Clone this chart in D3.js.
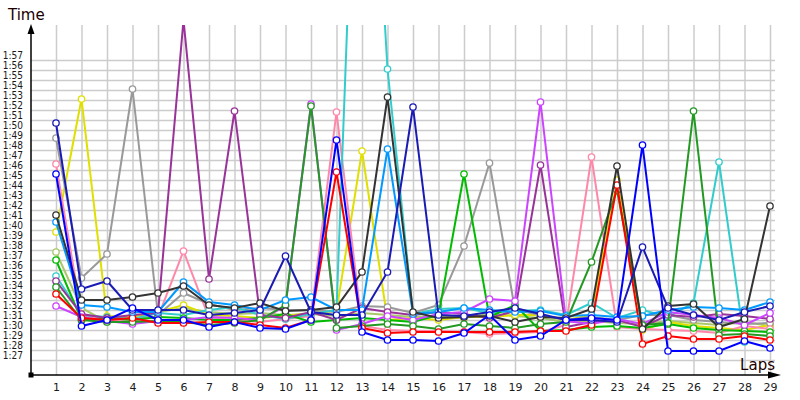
<!DOCTYPE html>
<html>
<head>
<meta charset="utf-8">
<script src="https://cdn.jsdelivr.net/npm/d3@7/dist/d3.min.js"></script>
<style>
  html, body { margin: 0; padding: 0; background: #fff; }
  svg { display: block; }
</style>
</head>
<body>
<svg id="chart" width="800" height="400"></svg>
<script>
// ---- data (lap times in seconds) ----
const laps = [1,2,3,4,5,6,7,8,9,10,11,12,13,14,15,16,17,18,19,20,21,22,23,24,25,26,27,28,29];
const yTickValues = [87,88,89,90,91,92,93,94,95,96,97,98,99,100,101,102,103,104,105,106,107,108,109,110,111,112,113,114,115,116,117];

const navy     = [110.7,94.1,94.9,92.0,92.0,92.0,91.5,91.7,92.0,97.4,91.8,91.5,91.5,95.8,112.3,91.5,91.4,91.8,92.2,91.6,91.0,91.0,90.8,98.3,92.2,91.5,91.0,91.8,92.4];
const blue     = [105.6,90.4,91.0,92.2,91.0,91.0,90.3,90.8,90.2,90.1,91.0,109.0,89.8,89.0,89.0,88.9,89.7,91.5,89.0,89.4,91.0,91.2,91.0,108.5,87.9,87.9,87.9,88.9,88.2];
const red      = [93.6,91.2,91.0,91.2,90.7,90.7,90.8,90.8,90.5,90.2,91.0,105.8,90.2,89.7,89.8,89.8,89.8,89.8,89.8,89.9,89.9,90.5,104.5,88.6,89.4,89.1,89.1,89.4,89.0];
const green    = [97.0,91.0,91.2,91.0,91.3,91.2,91.0,91.0,91.2,91.6,90.8,91.0,91.2,91.0,90.8,91.5,105.6,91.3,92.5,89.9,90.0,90.3,90.4,90.2,90.6,90.2,90.0,89.9,89.8];
const darkGreen= [94.3,91.0,90.8,90.8,90.9,90.8,90.5,90.7,91.0,92.5,112.4,90.2,90.4,90.6,90.4,90.1,90.6,90.4,90.2,90.6,90.8,96.8,104.0,90.5,90.7,111.9,89.5,89.6,89.4];
const gray     = [109.2,95.2,97.6,114.1,91.5,93.7,92.6,92.0,92.2,92.0,92.0,91.8,92.4,92.3,91.7,92.5,98.4,106.7,92.0,91.5,91.0,91.3,91.0,91.5,91.5,91.0,90.8,90.6,90.7];
const black    = [101.5,93.0,93.0,93.3,93.7,94.4,92.5,92.2,92.7,91.9,92.0,92.3,95.8,113.3,91.8,91.2,91.3,91.4,90.8,91.3,91.2,92.1,106.4,90.1,92.4,92.6,90.3,91.1,102.4];
const yellow   = [99.8,113.1,91.4,91.3,91.8,92.5,91.5,91.4,91.2,91.4,91.7,91.9,107.9,91.0,91.2,91.0,91.3,91.3,91.5,91.5,91.0,91.5,105.0,90.0,90.8,90.4,90.2,90.0,90.5];
const purple   = [94.9,91.6,91.2,91.5,91.7,121.0,95.1,111.9,91.5,91.2,91.8,91.0,92.2,91.8,91.5,91.8,91.6,91.2,91.9,106.5,90.3,90.8,91.0,90.3,91.5,91.3,91.6,91.4,91.1];
const violet   = [92.4,91.3,90.9,90.6,90.9,91.0,91.3,91.2,91.0,92.4,112.6,90.0,90.6,91.4,91.0,91.6,91.8,93.1,92.9,112.8,90.9,90.6,91.1,90.6,91.8,91.5,91.2,90.5,91.7];
const pink     = [106.6,91.5,91.0,91.0,91.3,97.9,91.2,91.0,90.8,91.1,91.4,111.8,90.4,90.0,89.9,89.9,89.8,89.6,89.7,89.8,90.5,107.3,90.3,90.1,90.0,89.9,89.7,90.4,90.1];
const cyan     = [95.4,91.5,91.3,91.1,91.7,91.5,92.0,92.3,91.5,91.1,91.6,92.0,160.0,116.1,91.6,92.1,92.2,91.7,91.9,92.0,91.5,92.7,91.2,92.0,91.3,92.7,106.8,88.8,null];
const skyBlue  = [100.8,92.5,92.3,91.8,91.8,94.8,92.8,92.5,92.0,93.0,93.3,92.0,92.0,108.1,91.6,91.8,92.2,92.0,91.8,91.9,91.4,91.5,91.3,91.4,92.0,92.3,92.2,92.0,92.8];
const olive    = [97.8,92.2,90.8,90.8,91.8,92.2,91.8,91.6,91.7,91.5,91.6,91.4,91.7,91.5,91.3,91.4,91.2,91.6,91.4,91.2,90.8,90.9,90.7,90.6,90.9,90.7,90.5,90.8,90.4];

const seriesValues = [olive, yellow, gray, pink, cyan, green, purple, violet, darkGreen, red, skyBlue, black, navy, blue];
const seriesColors = ["#a8c86a", "#e0e000", "#999999", "#ff88aa", "#33cccc", "#00bb00", "#993399", "#cc44ff", "#229922", "#ff0000", "#0099ff", "#333333", "#1a1ab4", "#0000ff"];

// ---- layout ----
const svg = d3.select("#chart");
const x = d3.scaleLinear().domain([0, 29]).range([30.5, 770]);
const y = d3.scaleLinear().domain([85.5, 120.5]).range([375, 25]);
const fmt = v => Math.floor(v / 60) + ":" + String(Math.round(v % 60)).padStart(2, "0");

const defs = svg.append("defs");
defs.append("clipPath").attr("id", "plotClip")
  .append("rect").attr("x", 31).attr("y", 25).attr("width", 760).attr("height", 350);

// grid: horizontal
const gridY = svg.append("g").attr("transform", "translate(31,0)")
  .call(d3.axisLeft(y).tickValues(yTickValues).tickSize(-744).tickFormat(""));
gridY.select(".domain").remove();
gridY.selectAll("line").attr("stroke", "#cccccc").attr("stroke-width", 1.5);

// grid: vertical
const gridX = svg.append("g").attr("transform", "translate(0,375)")
  .call(d3.axisBottom(x).tickValues(laps).tickSize(-350).tickFormat(""));
gridX.select(".domain").remove();
gridX.selectAll("line").attr("stroke", "#cccccc").attr("stroke-width", 1.5);

// y labels
const yLab = svg.append("g").attr("transform", "translate(23,0)")
  .call(d3.axisLeft(y).tickValues(yTickValues).tickSize(0).tickPadding(0).tickFormat(fmt));
yLab.select(".domain").remove();
yLab.selectAll("text")
  .attr("font-family", "'DejaVu Sans Condensed', 'DejaVu Sans', sans-serif")
  .attr("font-size", 10).attr("fill", "#1a1a1a")
  .attr("dy", "-0.15em");

// x labels
const xLab = svg.append("g").attr("transform", "translate(0,383)")
  .call(d3.axisBottom(x).tickValues(laps).tickSize(0).tickPadding(0).tickFormat(d3.format("d")));
xLab.select(".domain").remove();
xLab.selectAll("text")
  .attr("font-family", "'DejaVu Sans', sans-serif")
  .attr("font-size", 11).attr("fill", "#1a1a1a");

// series
const line = d3.line()
  .defined(d => d != null)
  .x((d, i) => x(laps[i]))
  .y(d => y(d));

const plot = svg.append("g").attr("clip-path", "url(#plotClip)");
seriesValues.forEach((vals, si) => {
  const g = plot.append("g");
  g.append("path")
    .attr("d", line(vals))
    .attr("fill", "none")
    .attr("stroke", seriesColors[si])
    .attr("stroke-width", 2)
    .attr("stroke-linejoin", "miter");
  g.selectAll("circle")
    .data(vals.map((v, i) => ({v, lap: laps[i]})).filter(d => d.v != null))
    .enter().append("circle")
    .attr("cx", d => x(d.lap))
    .attr("cy", d => y(d.v))
    .attr("r", 3.2)
    .attr("fill", "#ffffff")
    .attr("stroke", seriesColors[si])
    .attr("stroke-width", 1.3);
});

// axes lines with arrows
svg.append("line").attr("x1", 31).attr("y1", 375).attr("x2", 31).attr("y2", 30)
  .attr("stroke", "#000").attr("stroke-width", 1.5);
svg.append("path").attr("d", "M31,24 L27.5,34 L34.5,34 Z").attr("fill", "#000");
svg.append("line").attr("x1", 31).attr("y1", 375).attr("x2", 775).attr("y2", 375)
  .attr("stroke", "#000").attr("stroke-width", 1.5);
svg.append("path").attr("d", "M781,375 L768,371.5 L768,378.5 Z").attr("fill", "#000");
svg.append("rect").attr("x", 28.5).attr("y", 372.5).attr("width", 5).attr("height", 5).attr("fill", "#000");

// titles
svg.append("text").attr("x", 8).attr("y", 20)
  .attr("font-family", "'DejaVu Sans', sans-serif").attr("font-size", 15).attr("fill", "#1a0000")
  .text("Time");
svg.append("text").attr("x", 775).attr("y", 370).attr("text-anchor", "end")
  .attr("font-family", "'DejaVu Sans', sans-serif").attr("font-size", 15).attr("fill", "#1a0000")
  .text("Laps");
</script>
</body>
</html>
